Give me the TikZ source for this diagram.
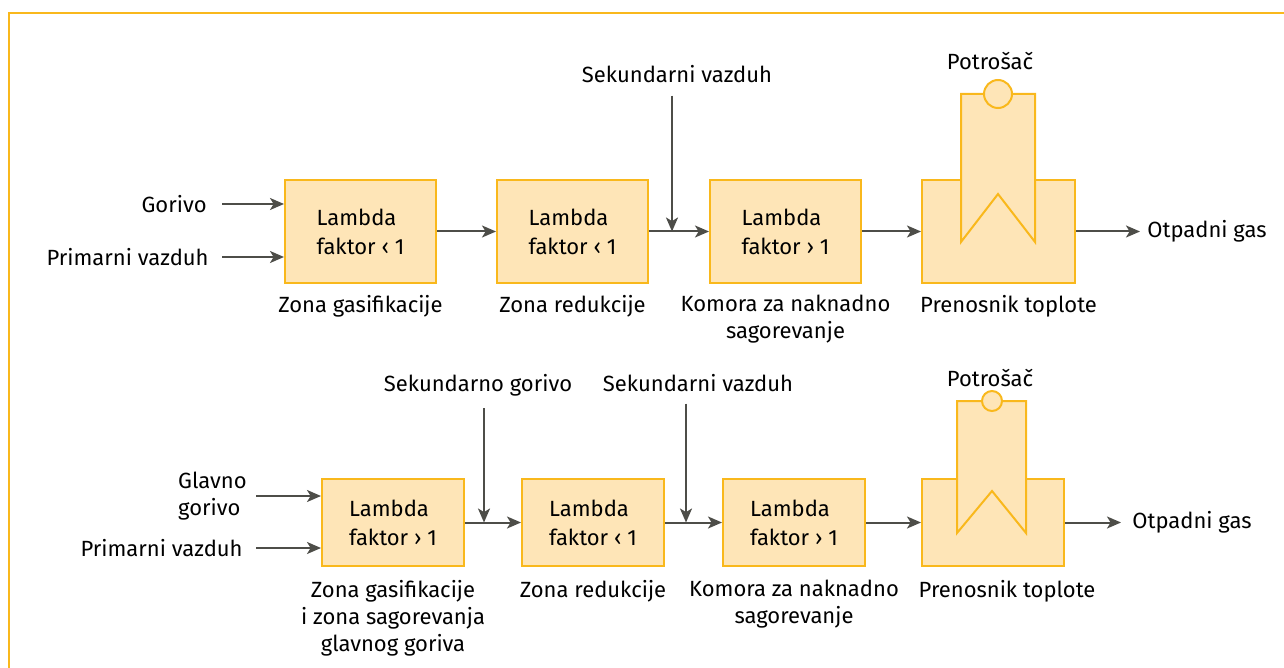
\documentclass[tikz,border=0pt]{standalone}
\usepackage{fontspec}
\setmainfont{Fira Sans}
\usepackage{xcolor}
\usetikzlibrary{arrows.meta,positioning}
\definecolor{zoneFill}{RGB}{254,229,183}
\definecolor{zoneLine}{RGB}{249,184,28}
\definecolor{flowGray}{RGB}{77,77,72}

\begin{document}
\begin{tikzpicture}[
      x=0.5pt, y=-0.5pt,
      font=\fontsize{11}{13.5}\selectfont,
      zone/.style={rectangle, draw=zoneLine, fill=zoneFill, line width=1pt,
                   align=left, inner sep=0pt, font=\fontsize{11}{14.5}\selectfont},
      zoneA/.style={zone, minimum width=75.5pt, minimum height=51.5pt},
      zoneB/.style={zone, minimum width=71pt, minimum height=43.5pt},
      hx/.style={draw=zoneLine, fill=zoneFill, line width=1pt, line join=miter},
      lbl/.style={align=center, inner sep=2pt},
      arr/.style={-{Stealth[length=7pt,width=6pt,inset=1.8pt]}, draw=flowGray, line width=1pt}
    ]
    \useasboundingbox (0,0) rectangle (1284,668);
    \draw[zoneLine, line width=1.2pt] (9,668) -- (9,13) -- (1284,13);

    % upper line
    \node[zoneA] (a1) at (360.5,231.5) {Lambda\\faktor ‹ 1};
    \node[zoneA, right=29.5pt of a1] (a2) {Lambda\\faktor ‹ 1};
    \node[zoneA, right=30pt of a2] (a3) {Lambda\\faktor › 1};
    \node[zoneA, right=29.5pt of a3, minimum width=76.5pt] (ah) {};
    \draw[hx] (961,242) -- (961,94) -- (1035,94) -- (1035,242) -- (998,194) -- cycle;
    \draw[hx] (998,94) circle[radius=7pt];

    \node[lbl, below=3.5pt of a1] (a1t) {Zona gasifikacije};
    \node[lbl, below=3.5pt of a2] (a2t) {Zona redukcije};
    \node[lbl, below=3.5pt of a3] (a3t) {Komora za naknadno\\sagorevanje};
    \node[lbl, below=3.5pt of ah, xshift=5pt] (aht) {Prenosnik toplote};
    \node[lbl, anchor=base] (pa) at (990,70) {Potrošač};
    \node[lbl, anchor=base] (sva) at (677,83) {Sekundarni vazduh};

    \node[lbl, anchor=east, inner sep=0pt] (fa) at (207,204) {Gorivo};
    \node[lbl, anchor=east, inner sep=0pt] (pva) at (209,257) {Primarni vazduh};
    \node[lbl, anchor=west, inner sep=0pt] (oa) at (1147,231.5) {Otpadni gas};
    \coordinate (ja) at (672,231.5);

    \draw[arr, shorten <=7.5pt] (fa) -- (fa -| a1.west);
    \draw[arr, shorten <=6.5pt] (pva) -- (pva -| a1.west);
    \draw[arr] (a1) -- (a2);
    \draw[arr] (a2) -- (a3);
    \draw[arr, shorten <=4pt] (sva.south -| ja) -- (ja);
    \draw[arr] (a3) -- (ah);
    \draw[arr, shorten >=3.5pt] (ah) -- (oa);

    % lower line
    \node[zoneB] (b1) at (393,522.5) {Lambda\\faktor › 1};
    \node[zoneB, right=28pt of b1] (b2) {Lambda\\faktor ‹ 1};
    \node[zoneB, right=28.5pt of b2] (b3) {Lambda\\faktor › 1};
    \node[zoneB, right=27.5pt of b3] (bh) {};
    \draw[hx] (957,533) -- (957,401) -- (1026,401) -- (1026,533) -- (992,491) -- cycle;
    \draw[hx] (992,401) circle[radius=5pt];

    \node[lbl, below=4.5pt of b1] (b1t) {Zona gasifikacije\\i zona sagorevanja\\glavnog goriva};
    \node[lbl, below=4.5pt of b2] (b2t) {Zona redukcije};
    \node[lbl, below=4.5pt of b3] (b3t) {Komora za naknadno\\sagorevanje};
    \node[lbl, below=4.5pt of bh, xshift=7pt] (bht) {Prenosnik toplote};
    \node[lbl, anchor=base] (pb) at (990,386) {Potrošač};
    \node[lbl, anchor=base] (sgb) at (478,391) {Sekundarno gorivo};
    \node[lbl, anchor=base] (svb) at (698,391) {Sekundarni vazduh};

    \node[align=left, anchor=east, inner sep=0pt] (gb) at (247,496) {Glavno\\gorivo};
    \node[lbl, anchor=east, inner sep=0pt] (pvb) at (243,548) {Primarni vazduh};
    \node[lbl, anchor=west, inner sep=0pt] (ob) at (1132,522.5) {Otpadni gas};
    \coordinate (jb1) at (484,522.5);
    \coordinate (jb2) at (686,522.5);

    \draw[arr, shorten <=4.5pt] (gb) -- (gb -| b1.west);
    \draw[arr, shorten <=6.5pt] (pvb) -- (pvb -| b1.west);
    \draw[arr] (b1) -- (b2);
    \draw[arr, shorten <=4pt] (sgb.south -| jb1) -- (jb1);
    \draw[arr] (b2) -- (b3);
    \draw[arr, shorten <=4pt] (svb.south -| jb2) -- (jb2);
    \draw[arr] (b3) -- (bh);
    \draw[arr, shorten >=5.5pt] (bh) -- (ob);
  \end{tikzpicture}
\end{document}
